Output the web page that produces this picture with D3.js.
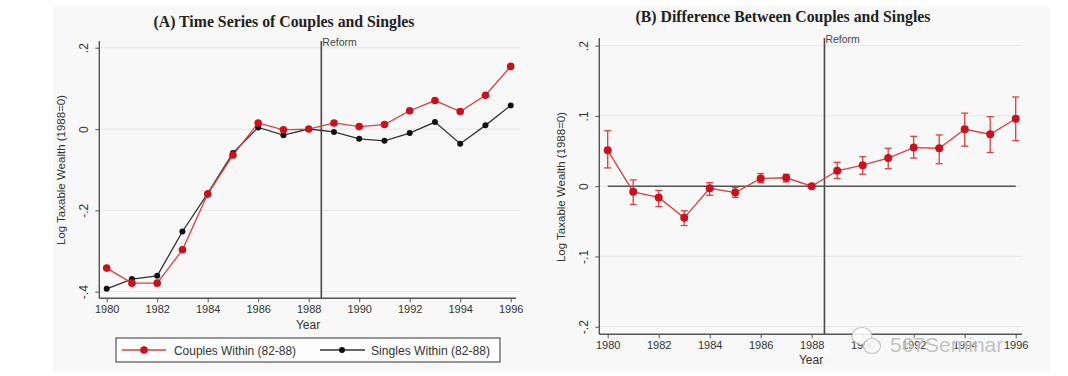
<!DOCTYPE html>
<html><head><meta charset="utf-8">
<script src="https://cdn.jsdelivr.net/npm/d3@7"></script>
<style>body{margin:0;background:#fff}svg{display:block}</style>
</head><body><svg id="c" width="1068" height="376"></svg>
<script>
const years = d3.range(1980, 1997);
const couples = [-0.342,-0.379,-0.379,-0.297,-0.160,-0.064,0.015,-0.002,0,0.015,0.006,0.011,0.045,0.070,0.043,0.083,0.154];
const singles = [-0.393,-0.369,-0.361,-0.252,-0.158,-0.059,0.004,-0.015,0,-0.007,-0.024,-0.029,-0.010,0.017,-0.036,0.009,0.058];
const diff   = [0.051,-0.008,-0.016,-0.045,-0.003,-0.009,0.011,0.012,0,0.022,0.030,0.040,0.055,0.054,0.081,0.074,0.096];
const ciHi   = [0.079,0.009,-0.006,-0.035,0.005,-0.002,0.018,0.017,null,0.034,0.042,0.054,0.071,0.073,0.104,0.099,0.127];
const ciLo   = [0.026,-0.026,-0.029,-0.056,-0.013,-0.016,0.005,0.006,null,0.011,0.017,0.025,0.040,0.032,0.057,0.048,0.065];
const xTicks = [1980,1982,1984,1986,1988,1990,1992,1994,1996];
const yTicksA = [0.2,0,-0.2,-0.4];
const yTicksB = [0.2,0.1,0,-0.1,-0.2];
const reformYear = 1988.5;
const titleA = "(A)  Time Series of Couples and Singles";
const titleB = "(B)  Difference Between Couples and Singles";
const yTitle = "Log Taxable Wealth (1988=0)";
const legendLabels = ["Couples Within (82-88)", "Singles Within (82-88)"];

const svg = d3.select("#c");
const RED = "#c8121c", REDL = "#d9413f", AX = "#555";
const sans = "'Liberation Sans', Arial, sans-serif";
const serif = "'Liberation Serif', 'Times New Roman', serif";
const fmt = v => v === 0 ? "0" : (v < 0 ? "-" : "") + String(Math.abs(v)).replace(/^0/, "");

svg.append("rect").attr("x",53).attr("y",6).attr("width",997).attr("height",366).attr("fill","#f8f8f9");

function panel(o) {
  const g = svg.append("g");
  const x = d3.scaleLinear().domain([1980,1996]).range(o.xr);
  const y = d3.scaleLinear().domain(o.yd).range(o.yr);
  g.selectAll(".gl").data(o.yTicks).join("line")
    .attr("x1", o.axX).attr("x2", o.gridEnd).attr("y1", d=>y(d)).attr("y2", d=>y(d))
    .attr("stroke", "#e9e9ec").attr("stroke-width", 1.2);
  const ya = g.append("g").attr("transform", `translate(${o.axX},0)`)
    .call(d3.axisLeft(y).tickValues(o.yTicks).tickFormat(fmt).tickSize(4).tickSizeOuter(0));
  ya.select(".domain").remove();
  g.append("line").attr("x1",o.axX).attr("x2",o.axX).attr("y1",o.axTop).attr("y2",o.axY).attr("stroke",AX).attr("stroke-width",1.4);
  ya.selectAll(".tick line").attr("stroke",AX);
  ya.selectAll(".tick text").attr("x",0).attr("dy",0).attr("transform","rotate(-90)")
    .attr("text-anchor","middle")
    .attr("y",-11).attr("font-family",sans).attr("font-size",12).attr("fill","#333");
  const xa = g.append("g").attr("transform", `translate(0,${o.axY})`)
    .call(d3.axisBottom(x).tickValues(xTicks).tickFormat(d3.format("d")).tickSize(4).tickSizeOuter(0));
  xa.select(".domain").remove();
  g.append("line").attr("x1",o.axX).attr("x2",o.axRight).attr("y1",o.axY).attr("y2",o.axY).attr("stroke",AX).attr("stroke-width",1.4);
  xa.selectAll(".tick line").attr("stroke",AX);
  xa.selectAll(".tick text").attr("font-family",sans).attr("font-size",11).attr("fill","#333").attr("y",7);
  g.append("text").attr("transform",`translate(${o.yTitleX},${o.yTitleY}) rotate(-90)`)
    .attr("text-anchor","middle").attr("font-family",sans).attr("font-size",11.5).attr("fill","#333").text(yTitle);
  g.append("text").attr("x",o.yearX).attr("y",o.yearY).attr("text-anchor","middle")
    .attr("font-family",sans).attr("font-size",12).attr("fill","#333").text("Year");
  g.append("text").attr("x",o.titleX).attr("y",o.titleY).attr("text-anchor","middle")
    .attr("font-family",serif).attr("font-weight","bold").attr("font-size",15.8).attr("fill","#222").text(o.title);
  g.append("line").attr("x1",x(reformYear)).attr("x2",x(reformYear)).attr("y1",o.axTop).attr("y2",o.axY)
    .attr("stroke","#4a4a4a").attr("stroke-width",1.6);
  g.append("text").attr("x",x(reformYear)+1).attr("y",o.reformY).attr("font-family",sans).attr("font-size",10.5)
    .attr("fill","#444").text("Reform");
  return {g,x,y};
}

// Panel A
const A = panel({xr:[106.7,510.7], yd:[-0.4,0.2], yr:[291.7,47.7], yTicks:yTicksA,
  axX:99.3, axY:298.3, axTop:41, axRight:516, gridEnd:520,
  yTitleX:65, yTitleY:170, yearX:308, yearY:329, titleX:284, titleY:27, title:titleA, reformY:46});
const lineA = d3.line().x((d,i)=>A.x(years[i])).y(d=>A.y(d));
A.g.append("path").datum(singles).attr("d",lineA).attr("fill","none").attr("stroke","#333").attr("stroke-width",1.3);
A.g.append("path").datum(couples).attr("d",lineA).attr("fill","none").attr("stroke",REDL).attr("stroke-width",1.3);
A.g.selectAll(".ms").data(singles).join("circle").attr("cx",(d,i)=>A.x(years[i])).attr("cy",d=>A.y(d)).attr("r",3).attr("fill","#111");
A.g.selectAll(".mc").data(couples).join("circle").attr("cx",(d,i)=>A.x(years[i])).attr("cy",d=>A.y(d)).attr("r",3.8).attr("fill",RED);

// Legend
const lg = svg.append("g");
lg.append("rect").attr("x",116).attr("y",338).attr("width",384).attr("height",24).attr("fill","#fdfdfd").attr("stroke","#555").attr("stroke-width",1.2);
lg.append("line").attr("x1",122).attr("x2",166).attr("y1",350).attr("y2",350).attr("stroke",REDL).attr("stroke-width",1.3);
lg.append("circle").attr("cx",144).attr("cy",350).attr("r",3.8).attr("fill",RED);
lg.append("text").attr("x",174).attr("y",354.5).attr("font-family",sans).attr("font-size",13).attr("fill","#333")
  .attr("textLength",122).attr("lengthAdjust","spacingAndGlyphs").text(legendLabels[0]);
lg.append("line").attr("x1",320).attr("x2",365).attr("y1",350).attr("y2",350).attr("stroke","#333").attr("stroke-width",1.3);
lg.append("circle").attr("cx",342).attr("cy",350).attr("r",3).attr("fill","#111");
lg.append("text").attr("x",371).attr("y",354.5).attr("font-family",sans).attr("font-size",13).attr("fill","#333")
  .attr("textLength",119).attr("lengthAdjust","spacingAndGlyphs").text(legendLabels[1]);

// Panel B
const B = panel({xr:[607.7,1015.7], yd:[-0.2,0.2], yr:[326.7,45.7], yTicks:yTicksB,
  axX:599.3, axY:334.3, axTop:38, axRight:1022, gridEnd:1022,
  yTitleX:565, yTitleY:187, yearX:811, yearY:364, titleX:783, titleY:22, title:titleB, reformY:43});
B.g.append("line").attr("x1",B.x(1980)).attr("x2",B.x(1996)).attr("y1",B.y(0)).attr("y2",B.y(0)).attr("stroke","#555").attr("stroke-width",1.4);
const ci = years.map((yr,i)=>({yr,hi:ciHi[i],lo:ciLo[i]})).filter(d=>d.hi!==null);
B.g.selectAll(".eb").data(ci).join("line").attr("x1",d=>B.x(d.yr)).attr("x2",d=>B.x(d.yr))
  .attr("y1",d=>B.y(d.hi)).attr("y2",d=>B.y(d.lo)).attr("stroke",REDL).attr("stroke-width",1.3);
["hi","lo"].forEach(k=>{
  B.g.selectAll(".cap"+k).data(ci).join("line").attr("x1",d=>B.x(d.yr)-3.5).attr("x2",d=>B.x(d.yr)+3.5)
    .attr("y1",d=>B.y(d[k])).attr("y2",d=>B.y(d[k])).attr("stroke",REDL).attr("stroke-width",1.3);
});
const lineB = d3.line().x((d,i)=>B.x(years[i])).y(d=>B.y(d));
B.g.append("path").datum(diff).attr("d",lineB).attr("fill","none").attr("stroke",REDL).attr("stroke-width",1.3);
B.g.selectAll(".md").data(diff).join("circle").attr("cx",(d,i)=>B.x(years[i])).attr("cy",d=>B.y(d)).attr("r",4).attr("fill",RED);

// watermark
const wm = svg.append("g").attr("opacity",0.85);
wm.append("ellipse").attr("cx",862).attr("cy",336).attr("rx",10).attr("ry",8.5).attr("fill","#fff").attr("stroke","#bbb").attr("stroke-width",1.2);
wm.append("ellipse").attr("cx",872).attr("cy",346).attr("rx",8.5).attr("ry",7.5).attr("fill","#fff").attr("stroke","#bbb").attr("stroke-width",1.2);
wm.append("text").attr("x",890).attr("y",352).attr("font-family",sans).attr("font-size",21)
  .attr("fill","#b9b9b9").attr("stroke","#fff").attr("stroke-width",0.8).attr("paint-order","stroke").text("567Seminar");
</script></body></html>
